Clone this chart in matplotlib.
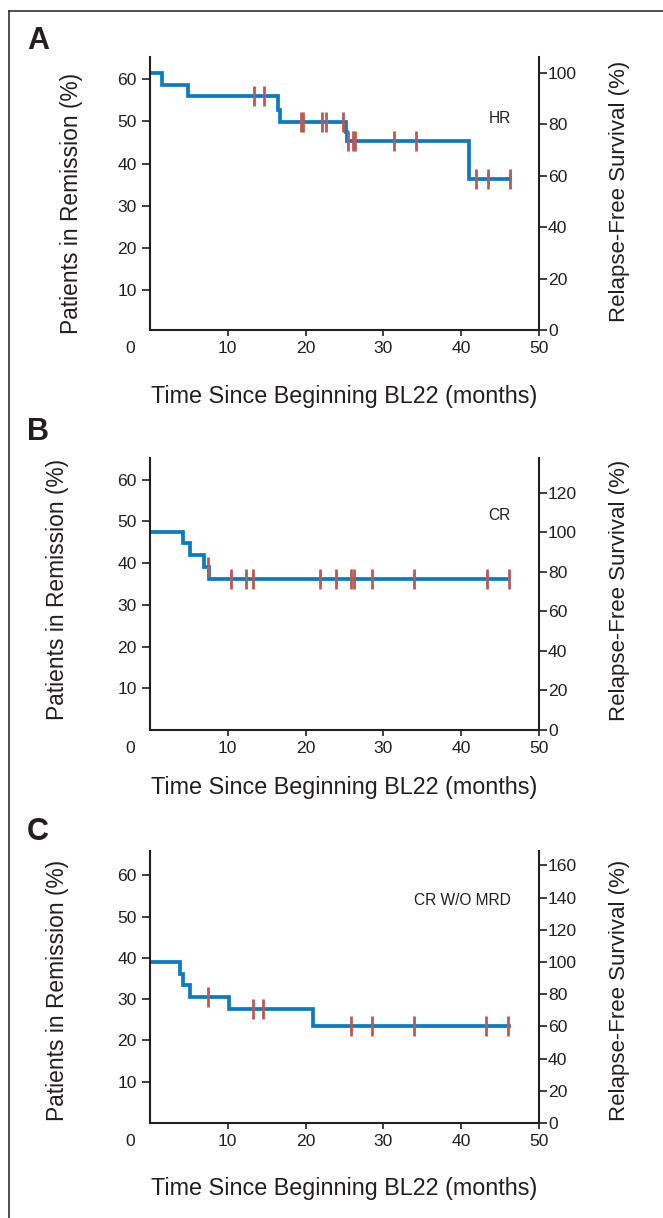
import numpy as np
import matplotlib
matplotlib.use('Agg')
import matplotlib.pyplot as plt
from matplotlib.lines import Line2D

plt.rcParams['font.family'] = ['Liberation Sans', 'DejaVu Sans']

# Kaplan-Meier steps (time in months, patients in remission %) and censor times
A_times = [0, 1.6, 4.85, 16.4, 16.7, 25.2, 25.35, 41.0, 46.3]
A_surv = [61.5, 58.7, 56.1, 52.7, 49.8, 47.6, 45.4, 36.4, 36.4]
A_cens = [13.4, 14.7, 19.4, 19.65, 22.1, 22.6, 24.75, 25.45, 26.05, 26.4,
          31.4, 34.15, 41.95, 43.5, 46.25]

B_times = [0, 4.2, 5.15, 6.9, 7.6, 46.1]
B_surv = [47.4, 44.8, 41.9, 39.0, 36.2, 36.2]
B_cens = [7.45, 10.35, 12.4, 13.2, 21.9, 23.9, 25.8, 26.2, 28.5, 33.9, 43.3, 46.1]

C_times = [0, 3.8, 4.2, 5.15, 10.1, 21.0, 46.1]
C_surv = [39.0, 36.2, 33.4, 30.6, 27.5, 23.5, 23.5]
C_cens = [7.45, 13.2, 14.5, 25.8, 28.5, 33.9, 43.25, 46.0]

panels = ['A', 'B', 'C']
groups = ['HR', 'CR', 'CR W/O MRD']
x_ticks = [10, 20, 30, 40, 50]
left_ticks = [10, 20, 30, 40, 50, 60]
right_ticks = [[0, 20, 40, 60, 80, 100],
               [0, 20, 40, 60, 80, 100, 120],
               [0, 20, 40, 60, 80, 100, 120, 140, 160]]

INK = '#231f20'
BLUE = '#0a7cc3'
RED = '#bb5a55'

fig = plt.figure(figsize=(6.63, 12.18), dpi=100)
W, H = 663.0, 1218.0

# pixel layout of each panel: (top, bottom) of axes
boxes = [(57, 330), (458, 730), (851, 1123)]
ylims = [(0.5, 65.3), (0.0, 65.2), (0.0, 65.9)]
xlab_y = [-0.245, -0.213, -0.239]
ylab_l = [(-0.203, 0.465), (-0.239, 0.515), (-0.239, 0.489)]
ylab_r = [(1.208, 0.507), (1.206, 0.515), (1.206, 0.489)]
letter_y = [41, 432, 832]

data = [(A_times, A_surv, A_cens), (B_times, B_surv, B_cens), (C_times, C_surv, C_cens)]

def level_at(times, surv, t):
    idx = np.searchsorted(times, t, side='right') - 1
    return np.array(surv)[idx]

for i, (times, surv, cens) in enumerate(data):
    top, bot = boxes[i]
    ax = fig.add_axes([150 / W, 1 - bot / H, 389 / W, (bot - top) / H])
    ax.step(times, surv, where='post', color=BLUE, lw=2.7, solid_joinstyle='miter')
    ax.plot(cens, level_at(times, surv, cens), ls='none', marker='|',
            ms=15, mew=2.0, color=RED)
    ax.set_xlim(0, 50)
    ax.set_ylim(*ylims[i])
    ax.set_xticks(x_ticks)
    ax.set_yticks(left_ticks)
    for s in ['top', 'right']:
        ax.spines[s].set_visible(False)
    for s in ['left', 'bottom']:
        ax.spines[s].set_linewidth(1.5)
        ax.spines[s].set_color(INK)
    ax.tick_params(axis='both', direction='out', length=5.5, width=1.2,
                   colors=INK, labelsize=12.6, pad=4)
    ax.tick_params(axis='x', length=4.5, pad=3.5)
    ax.annotate('0', xy=(0, 0), xycoords='axes fraction', xytext=(-14.4, -7.8),
                textcoords='offset points', ha='center', va='top',
                fontsize=12.6, color=INK)

    ax.set_xlabel('Time Since Beginning BL22 (months)', fontsize=16.8, color=INK)
    ax.xaxis.label.set_verticalalignment('center')
    ax.xaxis.set_label_coords(0.5, xlab_y[i])
    ax.set_ylabel('Patients in Remission (%)', fontsize=16.4, color=INK,
                  va='center', ha='center')
    ax.yaxis.set_label_coords(*ylab_l[i])

    ax.text(46.4, [50.8, 51.3, 54.0][i], groups[i], ha='right', va='center',
            fontsize=11.2, color=INK)

    ax2 = ax.twinx()
    f = 100.0 / surv[0]
    ax2.set_ylim(ylims[i][0] * f, ylims[i][1] * f)
    ax2.set_yticks(right_ticks[i])
    for s in ['top', 'left', 'bottom']:
        ax2.spines[s].set_visible(False)
    ax2.spines['right'].set_linewidth(1.5)
    ax2.spines['right'].set_color(INK)
    ax2.tick_params(axis='y', direction='out', length=5.5, width=1.2,
                    colors=INK, labelsize=12.6, pad=1)
    ax2.set_ylabel('Relapse-Free Survival (%)', fontsize=16.0, color=INK,
                   rotation=90, va='center', ha='center')
    ax2.yaxis.set_label_coords(*ylab_r[i])

    fig.text(27 / W, 1 - letter_y[i] / H, panels[i], fontsize=22,
             fontweight='bold', ha='left', va='center', color=INK)

# frame around the figure (top and left edges)
fig.add_artist(Line2D([9 / W, 9 / W], [0, 1 - 11 / H], transform=fig.transFigure,
                      color=INK, lw=1.1))
fig.add_artist(Line2D([9 / W, 1], [1 - 11 / H, 1 - 11 / H], transform=fig.transFigure,
                      color=INK, lw=1.1))

fig.savefig('out.png', dpi=100, facecolor='white')
